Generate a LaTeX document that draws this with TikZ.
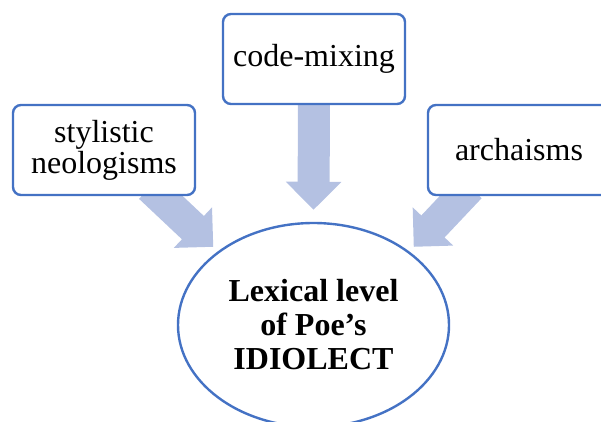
\documentclass[tikz,border=0pt]{standalone}
\usepackage{fontspec}
\setmainfont{Liberation Serif}
\usetikzlibrary{shapes,% ellipse node for the centre
arrows.meta,%           broad triangle tips
backgrounds}
\definecolor{boxblue}{RGB}{68,114,196}
\definecolor{fillblue}{RGB}{180,193,226}
\tikzset{every node/.style={font=\fontsize{32}{31}\selectfont},
  termbox/.style={draw=boxblue, line width=2.4pt, fill=white, rounded corners=8pt,
    minimum width=182pt, minimum height=90pt, align=center, inner sep=2pt},
  fatarrow/.style={fillblue, line width=32pt, -{Triangle[width=54pt,length=28pt]}}}

\begin{document}
\begin{tikzpicture}[x=1pt, y=-1pt]
      \useasboundingbox (0,0) rectangle (601,421);
      \clip (0,0) rectangle (601,421);
      % the three sources
      \node[termbox] (neo) at (104,150) {stylistic\\neologisms};
      \node[termbox] (mix) at (314,59) {code-mixing};
      \node[termbox] (arch) at (519,150) {archaisms};
      
      \node[draw=boxblue, line width=2.4pt, ellipse, minimum width=271pt,
        minimum height=204pt, inner sep=0pt, align=center,
        font=\fontsize{32}{34}\selectfont\bfseries] (lex) at (313.5,325)
        {Lexical level\\of Poe’s\\IDIOLECT};
      
      \begin{scope}[on background layer]
      \draw[fatarrow] ([yshift=5pt]mix.south) -- ([yshift=12pt]lex.north);
      \draw[fatarrow] ([xshift=46pt,yshift=9pt]neo.south) -- ([yshift=8pt]lex.145);
      \draw[fatarrow] ([xshift=-49pt,yshift=9pt]arch.south) -- ([yshift=8pt]lex.35);
      \end{scope}
    \end{tikzpicture}
\end{document}
